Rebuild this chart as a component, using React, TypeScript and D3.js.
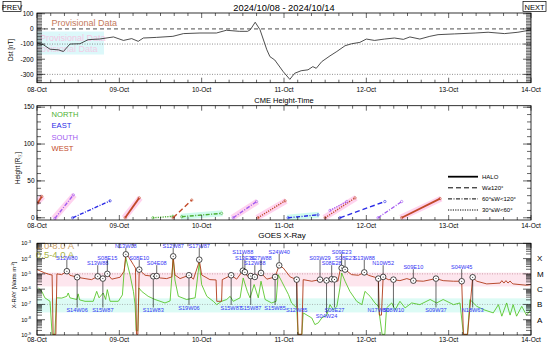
import React from "react";
import * as d3 from "d3";

// ---------- data ----------
const dateLabels = ["08-Oct", "09-Oct", "10-Oct", "11-Oct", "12-Oct", "13-Oct", "14-Oct"];

// Dst index, hours since 2024-10-08 00UT
const dstHours = [0, 1.9, 3.8, 6.2, 7.7, 9.6, 12.5, 14.9, 18.2, 22.3, 25.2, 27.6, 29.5, 31, 34.8, 39.6, 42.7, 47.5, 52.3, 55.2, 59, 61.4, 62.2, 63.6, 65, 67, 67.9, 69.3, 71.8, 73.7, 75.1, 77, 79, 80.4, 81.4, 83, 85.4, 87.4, 89.8, 91.7, 94.1, 96, 98.4, 101.3, 104.2, 106.8, 108.7, 111.6, 114.5, 116.9, 121.7, 127.7, 131.5, 136.3, 140.2, 144];
const dstValues = [-93, -105, -134, -138, -149, -100, -98, -71, -67, -53, -76, -64, -82, -60, -56, -49, -31, -27, -27, -9, -16, -16, -5, 44, -5, -138, -183, -205, -283, -333, -293, -276, -270, -249, -260, -216, -178, -149, -111, -98, -89, -67, -76, -67, -60, -69, -53, -67, -49, -38, -33, -27, -22, -31, -22, -7];

// CME height-time tracks
const cmeStart = [0.2, 5.2, 10.4, 25.7, 33.8, 42.2, 39.7, 57.2, 64.4, 73.2, 84.0, 85.4, 88.3, 99.4, 106.3];
const cmeEnd = [1.4, 10.6, 21.3, 29.8, 39.6, 53.8, 45.1, 64.0, 72.3, 81.9, 92.7, 90.3, 101.4, 106.3, 117.5];
const cmeH0 = [20, -1, 0, 0, 0, 1.5, 0, 0, 0, 0, 0, 10, 0, 0, 0];
const cmeH1 = [29, 31, 23, 27, 2, 6, 24, 22, 23, 4, 27, 22, 22, 22, 26];
const cmeDir = ["W", "S", "E", "W", "N", "N", "W", "S", "W", "E", "W", "S", "E", "S", "W"];
const cmeWidth = ["halo", "mid", "mid", "halo", "narrow", "mid", "wide", "mid", "narrow", "mid", "narrow", "narrow", "wide", "mid", "halo"];
const cmeShade = ["pink", "pink", "none", "pink", "none", "cyan", "none", "pink", "pink", "cyan", "pink", "none", "none", "none", "pink"];

// GOES X-ray, 1.0-8.0 A
const longHours = [0, 2.3, 3.8, 4.4, 4.7, 5.5, 5.8, 7.2, 8.7, 9.6, 11.7, 14.0, 15.9, 17.7, 18.4, 19.2, 20.5, 21.8, 24.2, 25.4, 25.9, 26.6, 28.1, 28.7, 29.0, 29.4, 29.8, 31.5, 33.9, 34.9, 35.9, 37.8, 39.3, 39.7, 40.2, 41.7, 44.3, 45.6, 47.0, 47.3, 48.0, 50.4, 52.2, 52.4, 53.8, 54.0, 56.6, 58.2, 60.0, 60.6, 61.3, 62.3, 63.5, 65.3, 67.0, 69.4, 70.6, 71.8, 73.8, 75.7, 76.1, 77.2, 77.6, 80.1, 82.5, 84.4, 85.9, 86.7, 87.7, 88.3, 88.8, 89.8, 91.7, 93.7, 95.4, 96.6, 98.5, 99.5, 99.8, 100.4, 100.9, 102.4, 103.9, 105.8, 107.8, 109.7, 112.6, 116.3, 118.4, 121.4, 123.8, 124.3, 125.5, 127.0, 128.2, 131.1, 135.0, 135.5, 136.1, 136.7, 137.3, 137.9, 138.5, 138.8, 142.7, 144.0];
const longFlux = [1.9e-5, 1.15e-5, 8.9e-6, 8.5e-6, 1.1e-9, 1.1e-9, 1.0e-5, 8.9e-6, 1.5e-5, 8.1e-6, 6.0e-6, 4.9e-6, 4.2e-6, 6.9e-6, 4.5e-6, 4.9e-6, 1.0e-5, 4.5e-6, 6.0e-6, 1.5e-5, 1.9e-4, 1.4e-4, 4.0e-5, 2.4e-5, 1.1e-9, 1.1e-9, 1.9e-5, 8.1e-6, 6.9e-6, 7.2e-6, 5.4e-6, 4.9e-6, 6.3e-6, 1.4e-4, 8.5e-6, 4.9e-6, 8.1e-6, 4.5e-6, 4.0e-5, 8.5e-5, 8.5e-6, 4.2e-6, 4.0e-6, 1.6e-7, 1.6e-7, 4.2e-6, 8.1e-6, 4.5e-6, 1.6e-5, 1.3e-5, 7.2e-6, 7.2e-6, 6.3e-6, 1.15e-5, 4.5e-6, 6.3e-6, 3.6e-5, 2.4e-5, 6.3e-6, 4.2e-6, 1.1e-9, 1.1e-9, 4.2e-6, 3.3e-6, 4.2e-6, 3.7e-6, 4.5e-6, 4.3e-6, 3.3e-6, 1.5e-5, 2.4e-5, 1.9e-5, 8.9e-6, 8.1e-6, 1.25e-5, 8.1e-6, 6.0e-6, 4.9e-6, 2.0e-8, 2.0e-8, 6.3e-6, 4.2e-6, 4.2e-6, 3.6e-6, 4.9e-6, 3.6e-6, 3.3e-6, 4.9e-6, 3.6e-6, 3.3e-6, 3.3e-6, 1.1e-9, 1.1e-9, 6.0e-6, 3.3e-6, 2.2e-6, 2.5e-6, 3.6e-6, 2.5e-6, 3.6e-6, 2.5e-6, 3.4e-6, 2.4e-6, 2.2e-6, 1.8e-6, 2.0e-6];

// GOES X-ray, 0.5-4.0 A
const shortHours = [0.4, 1.4, 2.3, 3.8, 4.4, 5.2, 5.7, 7.2, 8.7, 9.1, 9.6, 11.6, 12.0, 12.4, 14.0, 16.4, 17.4, 18.1, 19.3, 20.0, 20.5, 21.3, 23.7, 24.9, 25.4, 25.9, 27.1, 28.1, 28.6, 28.9, 29.4, 29.7, 30.5, 32.4, 34.4, 37.3, 38.8, 39.7, 40.2, 41.2, 43.6, 46.1, 47.3, 48.0, 49.5, 51.4, 52.4, 53.8, 55.3, 56.3, 57.2, 59.2, 60.1, 61.3, 62.1, 63.3, 64.5, 65.3, 66.5, 68.4, 69.7, 70.3, 71.3, 73.3, 74.2, 75.7, 76.1, 77.2, 77.6, 80.1, 81.0, 82.0, 83.0, 84.5, 85.4, 86.4, 87.4, 88.3, 88.8, 89.8, 91.2, 93.2, 94.7, 95.6, 97.1, 98.5, 99.5, 100.6, 101.4, 101.9, 103.4, 104.4, 105.8, 107.3, 109.2, 111.6, 114.6, 116.5, 118.4, 121.4, 123.3, 124.3, 125.5, 126.2, 128.2, 130.1, 133.0, 134.5, 135.5, 136.9, 137.9, 138.8, 139.8, 141.3, 142.7, 144.0];
const shortFlux = [1.2e-6, 7.2e-7, 2.7e-7, 1.6e-7, 1.1e-9, 1.1e-9, 2.7e-7, 2.6e-7, 3.4e-7, 5.6e-7, 2.7e-7, 2.1e-7, 4.9e-7, 2.0e-7, 1.6e-7, 1.6e-7, 7.2e-7, 2.7e-7, 5.6e-7, 2.1e-7, 9.3e-7, 1.6e-7, 1.6e-7, 4.2e-7, 1.5e-5, 1.1e-4, 8.9e-6, 7.2e-7, 9.7e-8, 1.9e-9, 1.9e-9, 1.2e-6, 7.2e-7, 3.4e-7, 2.1e-7, 1.25e-7, 1.7e-7, 1.1e-4, 4.0e-6, 3.4e-7, 2.1e-7, 2.7e-7, 5.2e-5, 2.0e-6, 3.4e-7, 1.6e-7, 9.7e-8, 1.6e-7, 2.1e-7, 3.4e-7, 1.6e-7, 2.7e-7, 5.4e-6, 7.2e-7, 2.7e-7, 2.0e-6, 2.7e-7, 3.3e-6, 2.1e-7, 1.25e-7, 1.6e-7, 8.9e-6, 3.3e-6, 4.4e-7, 1.25e-7, 5.9e-8, 1.1e-9, 1.1e-9, 2.8e-8, 1.3e-8, 4.8e-9, 6.2e-9, 1.3e-8, 2.0e-8, 9.7e-8, 4.4e-8, 7.3e-8, 1.2e-6, 1.15e-5, 3.3e-6, 7.2e-7, 1.6e-7, 9.7e-8, 7.2e-7, 3.4e-7, 1.25e-7, 7.5e-8, 1.1e-9, 1.1e-9, 5.9e-8, 1.25e-7, 4.4e-8, 1.6e-7, 5.9e-8, 1.25e-7, 9.7e-8, 2.1e-7, 1.25e-7, 2.1e-7, 9.7e-8, 1.25e-7, 1.1e-9, 1.1e-9, 2.1e-7, 7.5e-8, 4.6e-8, 2.8e-8, 9.7e-8, 1.7e-8, 1.25e-7, 2.0e-8, 9.7e-8, 1.7e-8, 7.5e-8, 2.0e-8, 4.6e-8];

// flares: label, time, peak flux, label above/below, label row
const flareNames = ["S12W80", "S14W06", "S13W88", "S15W87", "S08E15", "N13W08", "S08E10", "S11W83", "S04E08", "S12W87", "S19W06", "S17W87", "S15W87", "S11W88", "S13E36", "S15W87", "S12W88", "S27W88", "S15W85", "S24W40", "S12W85", "S03W29", "S04W24", "S08E28", "S06E27", "S09E23", "S08E23", "S13W88", "N17W80", "N10W52", "S08W10", "S09E10", "S09W37", "S04W45", "N18W63"];
const flareHours = [8.7, 11.7, 17.7, 19.2, 20.5, 25.9, 29.8, 33.9, 34.9, 39.7, 44.3, 47.3, 56.6, 60.0, 60.6, 62.3, 63.5, 65.3, 69.4, 70.6, 75.7, 82.5, 84.4, 85.9, 86.7, 88.8, 89.8, 95.4, 99.5, 100.9, 103.9, 109.7, 116.3, 123.8, 127.0];
const flareFlux = [1.5e-5, 6.0e-6, 6.9e-6, 4.9e-6, 1.0e-5, 1.9e-4, 1.9e-5, 6.9e-6, 7.2e-6, 1.4e-4, 8.1e-6, 8.5e-5, 8.1e-6, 1.6e-5, 1.3e-5, 7.2e-6, 6.3e-6, 1.15e-5, 6.3e-6, 3.6e-5, 4.2e-6, 4.2e-6, 3.7e-6, 4.5e-6, 4.3e-6, 2.4e-5, 1.9e-5, 1.25e-5, 4.9e-6, 6.3e-6, 4.2e-6, 3.6e-6, 4.9e-6, 3.3e-6, 6.0e-6];
const flareSide = ["up", "dn", "up", "dn", "up", "up", "up", "dn", "up", "up", "dn", "up", "dn", "up", "up", "dn", "up", "up", "dn", "up", "dn", "up", "dn", "up", "dn", "up", "up", "up", "dn", "up", "dn", "up", "dn", "up", "dn"];
const flareRow = [2, 1, 3, 1, 2, 0, 2, 1, 3, 0, 0, 0, 0, 1, 2, 0, 3, 2, 0, 1, 1, 2, 2, 3, 1, 1, 2, 2, 1, 3, 1, 4, 1, 4, 1];

const goesClasses = ["X", "M", "C", "B", "A"];
const goesClassFlux = [1e-4, 1e-5, 1e-6, 1e-7, 1e-8];

// ---------- layout ----------
const X0 = 37;
const X1 = 531;
const P1 = { y0: 13, y1: 82.7 };
const P2 = { y0: 105.7, y1: 220 };
const P3 = { y0: 243.3, y1: 335 };

const dirColor: Record<string, string> = { N: "#4cb032", E: "#2a2ae6", S: "#a45cf0", W: "#c24a2a" };
const widthDash: Record<string, string | undefined> = { halo: undefined, wide: "5,3", mid: "4,1.5,1,1.5", narrow: "1.2,1.2" };
const shadeColor: Record<string, string> = { pink: "#ffd3ef", cyan: "#d0fbee" };

const upRowY = [245.5, 251.5, 257.5, 263, 267];
const dnRowY = [307.5, 310, 316];

const x = d3.scaleLinear().domain([0, 144]).range([X0, X1]);

const TimeAxis = ({ y0, y1, labelY }: { y0: number; y1: number; labelY: number }) => (
  <g stroke="#000" strokeWidth={0.6}>
    {d3.range(0, 145, 4).map((h) => {
      const len = h % 24 === 0 ? 5 : 3;
      return (
        <g key={h}>
          <line x1={x(h)} x2={x(h)} y1={y1} y2={y1 - len} />
          <line x1={x(h)} x2={x(h)} y1={y0} y2={y0 + len} />
        </g>
      );
    })}
    {dateLabels.map((d, i) => (
      <text key={d} x={x(i * 24)} y={labelY} textAnchor="middle" fontSize={6.5} stroke="none" fill="#000">
        {d}
      </text>
    ))}
  </g>
);

const YTicks = ({ pos, len }: { pos: number[]; len: number }) => (
  <g stroke="#000" strokeWidth={0.6}>
    {pos.map((p, i) => (
      <g key={i}>
        <line x1={X0} x2={X0 + len} y1={p} y2={p} />
        <line x1={X1} x2={X1 - len} y1={p} y2={p} />
      </g>
    ))}
  </g>
);

const Frame = ({ y0, y1 }: { y0: number; y1: number }) => (
  <rect x={X0} y={y0} width={X1 - X0} height={y1 - y0} fill="none" stroke="#000" strokeWidth={0.8} />
);

export default function App() {
  const yDst = d3.scaleLinear().domain([-355, 105]).range([P1.y1, P1.y0]);
  const yCme = d3.scaleLinear().domain([-3, 152]).range([P2.y1, P2.y0]);
  const yX = d3.scaleLog().domain([1e-9, 1e-3]).range([P3.y1, P3.y0]);

  const dstLine = d3.line<number>().x((_, i) => x(dstHours[i])).y((d) => yDst(d))(dstValues) || "";
  const longLine = d3.line<number>().x((_, i) => x(longHours[i])).y((d) => yX(d))(longFlux) || "";
  const shortLine = d3.line<number>().x((_, i) => x(shortHours[i])).y((d) => yX(d))(shortFlux) || "";

  const xTicks = yX.ticks();
  const isMajor = (v: number) => Math.abs(Math.log10(v) - Math.round(Math.log10(v))) < 1e-6;

  return (
    <svg
      width={550}
      height={350}
      style={{ position: "absolute", left: 0, top: 0, background: "#fff" }}
      fontFamily="Liberation Sans, Arial, sans-serif"
    >
      <defs>
        <clipPath id="c1"><rect x={X0} y={P1.y0} width={X1 - X0} height={P1.y1 - P1.y0} /></clipPath>
        <clipPath id="c2"><rect x={X0} y={P2.y0} width={X1 - X0} height={P2.y1 - P2.y0} /></clipPath>
        <clipPath id="c3"><rect x={X0} y={P3.y0} width={X1 - X0} height={P3.y1 - P3.y0} /></clipPath>
      </defs>
      <rect width={550} height={350} fill="#fff" />

      {/* header */}
      <rect x={3} y={1.5} width={18} height={10} fill="none" stroke="#000" strokeWidth={0.7} />
      <text x={12} y={9.8} textAnchor="middle" fontSize={7.5}>PREV</text>
      <rect x={523} y={1.5} width={23} height={10} fill="none" stroke="#000" strokeWidth={0.7} />
      <text x={534.5} y={9.8} textAnchor="middle" fontSize={7.5}>NEXT</text>
      <text x={284} y={10.5} textAnchor="middle" fontSize={9.3}>2024/10/08 - 2024/10/14</text>

      {/* ---- Dst panel ---- */}
      <g clipPath="url(#c1)">
        <rect x={X0} y={31.5} width={67} height={23} fill="#dcf8fa" />
        <text x={40} y={41} fontSize={9} fill="#ffb0d8" opacity={0.7}>Provisional Data</text>
        <text x={32} y={52} fontSize={9} fill="#ffb0d8" opacity={0.6}>Provisional Data</text>
        <line x1={X0} x2={X1} y1={yDst(0)} y2={yDst(0)} stroke="#000" strokeWidth={0.7} strokeDasharray="4,3" />
        {[-100, -300].map((v) => (
          <line key={v} x1={X0} x2={X1} y1={yDst(v)} y2={yDst(v)} stroke="#444" strokeWidth={0.6} strokeDasharray="1,1.5" />
        ))}
        <path d={dstLine} fill="none" stroke="#222" strokeWidth={0.8} />
      </g>
      <text x={51.5} y={26} fontSize={9} fill="#c47a5c">Provisional Data</text>
      <YTicks pos={d3.range(-350, 101, 10).map((v) => yDst(v))} len={5} />
      <YTicks pos={[-300, -200, -100, 0, 100].map((v) => yDst(v))} len={8} />
      {[-300, -200, -100, 0, 100].map((v) => (
        <text key={v} x={33.5} y={yDst(v) + 2.3} textAnchor="end" fontSize={6.5}>{v}</text>
      ))}
      <text transform={`translate(12.5,50) rotate(-90)`} textAnchor="middle" fontSize={6.3}>Dst [nT]</text>
      <TimeAxis y0={P1.y0} y1={P1.y1} labelY={91.5} />
      <Frame y0={P1.y0} y1={P1.y1} />

      {/* ---- CME panel ---- */}
      <text x={284} y={102.5} textAnchor="middle" fontSize={7.5}>CME Height-Time</text>
      <g clipPath="url(#c2)">
        {cmeStart.map((s, i) =>
          cmeShade[i] === "none" ? null : (
            <line
              key={"s" + i}
              x1={x(s) - 1}
              y1={yCme(cmeH0[i])}
              x2={x(cmeEnd[i]) + 1}
              y2={yCme(cmeH1[i])}
              stroke={shadeColor[cmeShade[i]]}
              strokeWidth={6}
            />
          )
        )}
        {cmeStart.map((s, i) => (
          <g key={"t" + i} stroke={dirColor[cmeDir[i]]} fill="none">
            <line
              x1={x(s)}
              y1={yCme(cmeH0[i])}
              x2={x(cmeEnd[i])}
              y2={yCme(cmeH1[i])}
              strokeWidth={cmeWidth[i] === "halo" ? 1.8 : 1.4}
              strokeDasharray={widthDash[cmeWidth[i]]}
            />
            <circle cx={x(s)} cy={yCme(cmeH0[i])} r={1.2} strokeWidth={0.6} />
            <circle cx={x(cmeEnd[i])} cy={yCme(cmeH1[i])} r={1.2} strokeWidth={0.6} />
          </g>
        ))}
      </g>
      {["NORTH", "EAST", "SOUTH", "WEST"].map((n, i) => (
        <text key={n} x={51.5} y={117 + i * 11.4} fontSize={7.6} fill={dirColor[n[0]]}>{n}</text>
      ))}
      {["halo", "wide", "mid", "narrow"].map((w, i) => (
        <g key={w}>
          <line
            x1={448}
            x2={478}
            y1={176.7 + i * 11.1}
            y2={176.7 + i * 11.1}
            stroke="#000"
            strokeWidth={w === "halo" ? 1.8 : 1}
            strokeDasharray={widthDash[w]}
          />
          <text x={482} y={179 + i * 11.1} fontSize={6}>
            {["HALO", "W\u2265120\u00b0", "60\u00b0\u2264W<120\u00b0", "30\u00b0\u2264W<60\u00b0"][i]}
          </text>
        </g>
      ))}
      <YTicks pos={d3.range(0, 151, 10).map((v) => yCme(v))} len={4} />
      <YTicks pos={[0, 50, 100, 150].map((v) => yCme(v))} len={8} />
      {[0, 50, 100, 150].map((v) => (
        <text key={v} x={34.5} y={yCme(v) + 2.3} textAnchor="end" fontSize={6.5}>{v}</text>
      ))}
      <text transform={`translate(20,168) rotate(-90)`} textAnchor="middle" fontSize={6.3}>
        Height [R<tspan dy={1.5} fontSize={4.5}>{"\u2609"}</tspan><tspan dy={-1.5}>]</tspan>
      </text>
      <TimeAxis y0={P2.y0} y1={P2.y1} labelY={227.5} />
      <Frame y0={P2.y0} y1={P2.y1} />

      {/* ---- X-ray panel ---- */}
      <text x={282} y={237.5} textAnchor="middle" fontSize={8}>GOES X-Ray</text>
      <g clipPath="url(#c3)">
        <rect x={X0} y={yX(1.2e-5)} width={X1 - X0} height={yX(1.5e-6) - yX(1.2e-5)} fill="#fde6ee" />
        <rect x={X0} y={yX(2.5e-7)} width={X1 - X0} height={yX(3e-8) - yX(2.5e-7)} fill="#dcfbf5" />
        <line x1={X0} x2={X1} y1={yX(1e-5)} y2={yX(1e-5)} stroke="#b07080" strokeWidth={0.6} strokeDasharray="1,1.5" />
        <line x1={X0} x2={X1} y1={yX(1e-7)} y2={yX(1e-7)} stroke="#888" strokeWidth={0.6} strokeDasharray="1,1.5" />
        <path d={shortLine} fill="none" stroke="#46c014" strokeWidth={0.8} />
        <path d={longLine} fill="none" stroke="#b03a18" strokeWidth={0.9} />
      </g>
      <text x={36} y={248.5} fontSize={9.5} fill="#cda268">1.0-8.0 A</text>
      <text x={36} y={257.5} fontSize={9.5} fill="#a8b446">0.5-4.0 A</text>
      {flareNames.map((n, i) => {
        const cx = x(flareHours[i]);
        const cy = yX(flareFlux[i]);
        const up = flareSide[i] === "up";
        const ly = up ? upRowY[flareRow[i]] : dnRowY[flareRow[i]];
        return (
          <g key={i}>
            <line
              x1={cx}
              x2={cx}
              y1={up ? ly + 2.2 : cy + 3}
              y2={up ? cy - 3 : ly - 2.5}
              stroke="#000"
              strokeWidth={0.6}
            />
            <circle cx={cx} cy={cy} r={2.8} fill="#fff" stroke="#000" strokeWidth={0.7} />
            <circle cx={cx} cy={cy} r={0.5} fill="#000" />
            <text x={cx} y={ly + 2} textAnchor="middle" fontSize={5.6} fill="#3434f4">{n}</text>
          </g>
        );
      })}
      <YTicks pos={xTicks.filter((v) => !isMajor(v)).map((v) => yX(v))} len={5} />
      <YTicks pos={xTicks.filter(isMajor).map((v) => yX(v))} len={8} />
      {xTicks.filter(isMajor).map((v) => (
        <text key={v} x={31} y={yX(v) + 2} textAnchor="end" fontSize={5.5}>
          10<tspan dy={-2.3} fontSize={4}>{Math.round(Math.log10(v))}</tspan>
        </text>
      ))}
      {goesClasses.map((c, i) => (
        <text key={c} x={537} y={yX(goesClassFlux[i]) + 2.8} fontSize={8}>{c}</text>
      ))}
      <text transform={`translate(15.5,285) rotate(-90)`} textAnchor="middle" fontSize={5.8}>
        X-RAY [Watts m<tspan dy={-2} fontSize={4}>-2</tspan><tspan dy={2}>]</tspan>
      </text>
      <TimeAxis y0={P3.y0} y1={P3.y1} labelY={342} />
      <Frame y0={P3.y0} y1={P3.y1} />
    </svg>
  );
}
